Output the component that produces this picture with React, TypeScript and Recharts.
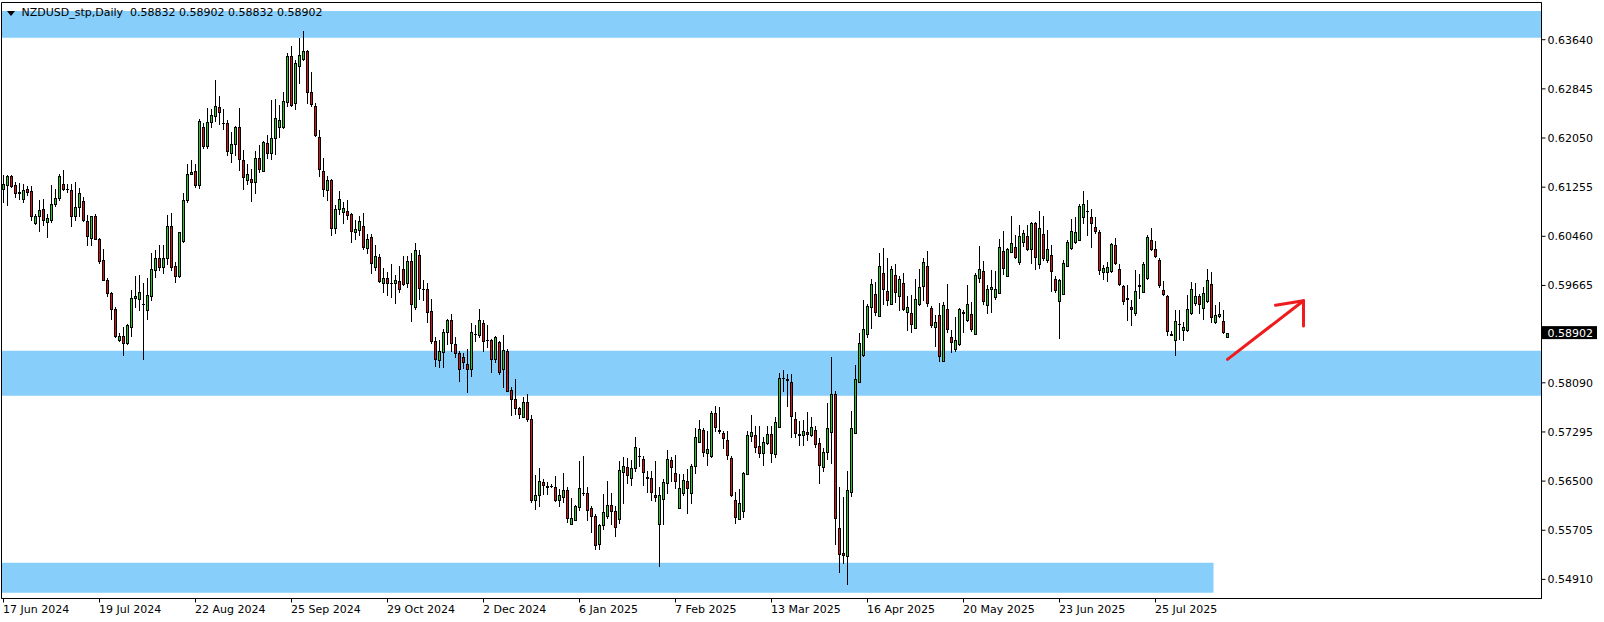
import React from "react";
import { ComposedChart, Bar, XAxis, YAxis, ReferenceArea, ReferenceLine } from "recharts";

const FONT = '"DejaVu Sans", Verdana, sans-serif';
const BULL = "#22cc22";
const BEAR = "#dd1111";
const BAND = "#87cefa";

// NZDUSD daily, one value per candle (17 Jun 2024 onward)
const opens = [
  0.61231, 0.61291, 0.61431, 0.61285, 0.6117, 0.61069, 0.61231, 0.61188, 0.60675, 0.60788,
  0.60907, 0.60691, 0.60729, 0.60977, 0.6108, 0.61302, 0.61225, 0.61215, 0.60788, 0.60934,
  0.61037, 0.60713, 0.60437, 0.60783, 0.60421, 0.6007, 0.59757, 0.59546, 0.59292, 0.58784,
  0.58849, 0.5873, 0.5899, 0.5946, 0.59443, 0.5937, 0.5927, 0.59492, 0.59919, 0.60102,
  0.59962, 0.60113, 0.60632, 0.59973, 0.59816, 0.60383, 0.61042, 0.61474, 0.61513, 0.61297,
  0.62226, 0.61923, 0.62301, 0.62398, 0.62544, 0.623, 0.62285, 0.61815, 0.61961, 0.6222,
  0.61702, 0.61378, 0.61394, 0.61345, 0.61723, 0.61523, 0.61977, 0.61815, 0.62058, 0.6222,
  0.62231, 0.62636, 0.63376, 0.62609, 0.63214, 0.63322, 0.63457, 0.62787, 0.62566, 0.62064,
  0.61523, 0.61216, 0.61367, 0.60595, 0.60897, 0.60854, 0.60865, 0.60816, 0.6053, 0.60557,
  0.60622, 0.60271, 0.60444, 0.59963, 0.6012, 0.59704, 0.59791, 0.59712, 0.59704, 0.59731,
  0.59926, 0.59704, 0.60054, 0.59314, 0.60151, 0.5961, 0.59611, 0.59244, 0.58774, 0.5846,
  0.58584, 0.58909, 0.59098, 0.5872, 0.58579, 0.58514, 0.58395, 0.58309, 0.5888, 0.58865,
  0.59065, 0.5879, 0.58785, 0.58476, 0.58757, 0.58314, 0.58612, 0.57979, 0.57828, 0.57682,
  0.57531, 0.57785, 0.57504, 0.56202, 0.56273, 0.56489, 0.56418, 0.56422, 0.56408, 0.56202,
  0.56235, 0.56359, 0.55813, 0.55878, 0.56089, 0.5631, 0.56305, 0.56062, 0.55938, 0.55479,
  0.55792, 0.55938, 0.56116, 0.56019, 0.55884, 0.56651, 0.56732, 0.56548, 0.5671, 0.5691,
  0.56861, 0.5657, 0.56554, 0.56278, 0.55803, 0.56208, 0.56462, 0.56845, 0.56634, 0.56073,
  0.563, 0.56505, 0.563, 0.56737, 0.57126, 0.57331, 0.56948, 0.5691, 0.57607, 0.57325,
  0.57277, 0.57169, 0.56872, 0.56192, 0.55894, 0.56024, 0.56613, 0.57223, 0.57245, 0.57067,
  0.56948, 0.5711, 0.57261, 0.56937, 0.5738, 0.58172, 0.58147, 0.58104, 0.57504, 0.57261,
  0.57245, 0.57293, 0.57245, 0.57326, 0.57115, 0.56721, 0.56975, 0.57288, 0.57909, 0.55737,
  0.55333, 0.55284, 0.56316, 0.57272, 0.58098, 0.58541, 0.58876, 0.59314, 0.5953, 0.59168,
  0.5987, 0.59568, 0.59368, 0.59838, 0.59492, 0.59708, 0.59233, 0.59222, 0.58979, 0.59362,
  0.59654, 0.59973, 0.59303, 0.58995, 0.59189, 0.58439, 0.59276, 0.58838, 0.58633, 0.5872,
  0.5923, 0.59103, 0.59206, 0.58876, 0.59784, 0.59892, 0.59352, 0.59605, 0.59476, 0.59546,
  0.60216, 0.59816, 0.60205, 0.60292, 0.60043, 0.60367, 0.6047, 0.60254, 0.6067, 0.60011,
  0.60491, 0.60081, 0.60151, 0.59773, 0.59411, 0.5953, 0.59978, 0.6027, 0.60367, 0.60405,
  0.60772, 0.60875, 0.60772, 0.60605, 0.60524, 0.59881, 0.59881, 0.59897, 0.60313, 0.59924,
  0.59649, 0.5946, 0.59314, 0.59216, 0.59668, 0.59562, 0.59784, 0.60394, 0.60259, 0.6007,
  0.59584, 0.59487, 0.58881, 0.58784, 0.5904, 0.58946, 0.58946, 0.59222, 0.59378, 0.59487,
  0.59303, 0.59411, 0.59692, 0.59071, 0.59168, 0.59092, 0.58832,
];

const highs = [
  0.61447, 0.61447, 0.61447, 0.61339, 0.61329, 0.61312, 0.61269, 0.61269, 0.60826, 0.61042,
  0.61069, 0.60826, 0.61285, 0.61231, 0.61474, 0.61528, 0.61312, 0.61312, 0.61339, 0.61248,
  0.61096, 0.608, 0.60794, 0.60815, 0.60437, 0.60254, 0.59784, 0.59557, 0.59314, 0.58903,
  0.5899, 0.59044, 0.59595, 0.59811, 0.59827, 0.59703, 0.5979, 0.60194, 0.60232, 0.60324,
  0.60324, 0.608, 0.60837, 0.60044, 0.60535, 0.61161, 0.61637, 0.61691, 0.61637, 0.62361,
  0.62296, 0.62528, 0.62517, 0.62987, 0.62728, 0.62512, 0.62339, 0.6215, 0.62242, 0.62528,
  0.61853, 0.61637, 0.61556, 0.61837, 0.61934, 0.62004, 0.62096, 0.62663, 0.62674, 0.62582,
  0.62798, 0.63419, 0.63538, 0.63311, 0.63662, 0.63781, 0.63473, 0.63122, 0.62609, 0.62177,
  0.61729, 0.61432, 0.61394, 0.60962, 0.61189, 0.61016, 0.61043, 0.60838, 0.6073, 0.60784,
  0.60838, 0.60503, 0.60503, 0.60314, 0.60168, 0.59953, 0.59882, 0.60006, 0.59828, 0.59974,
  0.60136, 0.60136, 0.60189, 0.60356, 0.60232, 0.59757, 0.59708, 0.59449, 0.58838, 0.58785,
  0.58963, 0.59125, 0.59206, 0.58838, 0.58601, 0.58568, 0.58639, 0.5906, 0.59027, 0.59276,
  0.59109, 0.59027, 0.58801, 0.58855, 0.58774, 0.58865, 0.58639, 0.58017, 0.58152, 0.57704,
  0.57855, 0.57909, 0.57574, 0.56602, 0.5671, 0.56532, 0.56478, 0.56451, 0.56586, 0.5637,
  0.56629, 0.56397, 0.56224, 0.56116, 0.56829, 0.5691, 0.56408, 0.561, 0.55965, 0.55813,
  0.56289, 0.56494, 0.56305, 0.561, 0.56829, 0.56883, 0.56872, 0.5684, 0.57218, 0.57034,
  0.5691, 0.56667, 0.56667, 0.56829, 0.56397, 0.56537, 0.57007, 0.56894, 0.56926, 0.56613,
  0.56613, 0.56694, 0.56775, 0.57358, 0.57493, 0.57353, 0.57304, 0.57639, 0.5772, 0.57693,
  0.57315, 0.57315, 0.5691, 0.56316, 0.5637, 0.5664, 0.57304, 0.57574, 0.57396, 0.57396,
  0.57207, 0.57396, 0.57396, 0.57542, 0.58244, 0.58304, 0.58233, 0.58233, 0.57612, 0.57477,
  0.57488, 0.57612, 0.57531, 0.57391, 0.57196, 0.57034, 0.57763, 0.58514, 0.57963, 0.56408,
  0.56246, 0.56667, 0.57639, 0.58385, 0.58898, 0.59422, 0.59357, 0.59762, 0.59719, 0.60194,
  0.60275, 0.60113, 0.59984, 0.60005, 0.59816, 0.59865, 0.59487, 0.59503, 0.59768, 0.59935,
  0.60102, 0.60216, 0.59325, 0.59195, 0.59389, 0.59405, 0.59681, 0.58946, 0.59162, 0.59303,
  0.5927, 0.59665, 0.59405, 0.59865, 0.60297, 0.60059, 0.59665, 0.59908, 0.59892, 0.60421,
  0.6054, 0.60275, 0.60783, 0.60486, 0.60648, 0.60567, 0.60648, 0.60691, 0.60691, 0.60864,
  0.60783, 0.60556, 0.60313, 0.59811, 0.59773, 0.60081, 0.60405, 0.60734, 0.60772, 0.60988,
  0.61188, 0.61042, 0.60907, 0.60772, 0.60567, 0.59989, 0.60043, 0.60351, 0.60432, 0.60005,
  0.59665, 0.59676, 0.59432, 0.59908, 0.59843, 0.60043, 0.60475, 0.60594, 0.60383, 0.60113,
  0.59735, 0.59503, 0.58935, 0.5927, 0.5927, 0.59071, 0.59503, 0.59719, 0.59708, 0.5953,
  0.59638, 0.59935, 0.59881, 0.59341, 0.59395, 0.5926, 0.58902,
];

const lows = [
  0.61015, 0.60961, 0.61258, 0.61096, 0.61069, 0.61015, 0.61123, 0.60718, 0.60653, 0.60545,
  0.60637, 0.60448, 0.60691, 0.60945, 0.61042, 0.61204, 0.61177, 0.60627, 0.60718, 0.60788,
  0.60702, 0.60324, 0.60324, 0.60421, 0.60032, 0.59747, 0.59492, 0.59125, 0.58828, 0.58763,
  0.58547, 0.5872, 0.58844, 0.59314, 0.5926, 0.58477, 0.59125, 0.59422, 0.598, 0.59919,
  0.59865, 0.60016, 0.59919, 0.59719, 0.598, 0.60367, 0.61015, 0.61464, 0.61258, 0.61243,
  0.61896, 0.61896, 0.6222, 0.62328, 0.62274, 0.62188, 0.61772, 0.61664, 0.61772, 0.61529,
  0.61232, 0.61302, 0.61032, 0.61162, 0.61502, 0.61513, 0.61734, 0.61718, 0.61799, 0.62069,
  0.62215, 0.62571, 0.62566, 0.62512, 0.62933, 0.63311, 0.6262, 0.62566, 0.6208, 0.61437,
  0.61108, 0.61053, 0.60487, 0.60514, 0.60816, 0.60681, 0.60746, 0.60368, 0.60422, 0.60476,
  0.6026, 0.6019, 0.59866, 0.59909, 0.5972, 0.59558, 0.59504, 0.59477, 0.5938, 0.59558,
  0.59666, 0.59639, 0.59087, 0.59287, 0.59449, 0.59422, 0.59071, 0.5873, 0.58368, 0.58352,
  0.58341, 0.5872, 0.58612, 0.58503, 0.58125, 0.58325, 0.57936, 0.58206, 0.58763, 0.58828,
  0.58612, 0.58666, 0.5826, 0.58433, 0.58233, 0.58017, 0.57963, 0.57574, 0.57585, 0.57515,
  0.57531, 0.57477, 0.5617, 0.56056, 0.561, 0.56289, 0.56289, 0.56408, 0.56181, 0.561,
  0.5617, 0.5584, 0.55803, 0.55867, 0.5603, 0.56278, 0.55867, 0.55684, 0.55398, 0.55398,
  0.55722, 0.55911, 0.55803, 0.55614, 0.5583, 0.56138, 0.56467, 0.5644, 0.56667, 0.56748,
  0.5644, 0.56316, 0.56192, 0.56181, 0.55127, 0.55803, 0.563, 0.56494, 0.56386, 0.56057,
  0.56278, 0.55976, 0.56138, 0.56624, 0.57126, 0.5691, 0.56753, 0.56894, 0.57315, 0.57272,
  0.57034, 0.56851, 0.56262, 0.5583, 0.55883, 0.55927, 0.56613, 0.57153, 0.56964, 0.56894,
  0.56759, 0.57099, 0.56802, 0.56883, 0.57369, 0.57952, 0.5772, 0.57207, 0.57218, 0.57083,
  0.57083, 0.57169, 0.57229, 0.57056, 0.56462, 0.56667, 0.56856, 0.56786, 0.55489, 0.55035,
  0.55181, 0.5483, 0.56251, 0.57272, 0.58098, 0.5853, 0.58828, 0.58973, 0.59179, 0.59168,
  0.59368, 0.59346, 0.59362, 0.59405, 0.5926, 0.5927, 0.58952, 0.58909, 0.58979, 0.59352,
  0.59422, 0.59325, 0.5899, 0.58682, 0.58439, 0.58439, 0.58909, 0.58584, 0.58601, 0.58698,
  0.58909, 0.59097, 0.58925, 0.58876, 0.59714, 0.59368, 0.59216, 0.59233, 0.59449, 0.59541,
  0.59843, 0.59816, 0.60205, 0.60113, 0.60016, 0.60297, 0.60232, 0.60027, 0.59924, 0.59946,
  0.6007, 0.60043, 0.59573, 0.59557, 0.58811, 0.59519, 0.59973, 0.60248, 0.60351, 0.60394,
  0.60675, 0.60475, 0.60286, 0.60513, 0.59843, 0.59773, 0.59735, 0.59881, 0.60016, 0.59665,
  0.59357, 0.59098, 0.59027, 0.59195, 0.59465, 0.59557, 0.59773, 0.60243, 0.60124, 0.59638,
  0.59514, 0.58865, 0.58865, 0.58541, 0.58801, 0.58784, 0.58935, 0.59206, 0.59351, 0.59222,
  0.59125, 0.59395, 0.59071, 0.59054, 0.59152, 0.58898, 0.58832,
];

const closes = [
  0.61312, 0.61431, 0.61275, 0.61167, 0.61165, 0.61215, 0.61177, 0.60788, 0.60794, 0.60891,
  0.60729, 0.60761, 0.60988, 0.61085, 0.61431, 0.61231, 0.6122, 0.60788, 0.60934, 0.61161,
  0.60718, 0.60464, 0.60794, 0.60421, 0.60059, 0.59757, 0.59546, 0.59281, 0.58844, 0.58849,
  0.5873, 0.59022, 0.5947, 0.59492, 0.59563, 0.59366, 0.59503, 0.59924, 0.60102, 0.59962,
  0.60113, 0.60632, 0.59962, 0.59816, 0.60524, 0.61053, 0.61474, 0.61507, 0.61291, 0.62323,
  0.61923, 0.62301, 0.6242, 0.6256, 0.62474, 0.62292, 0.61842, 0.61961, 0.6222, 0.61718,
  0.61426, 0.61475, 0.6134, 0.61723, 0.61551, 0.61993, 0.61815, 0.62058, 0.62366, 0.62339,
  0.62647, 0.63376, 0.62582, 0.63257, 0.63392, 0.63451, 0.62787, 0.62593, 0.62096, 0.61551,
  0.61232, 0.61367, 0.60595, 0.60908, 0.61069, 0.60924, 0.608, 0.60546, 0.60584, 0.60703,
  0.60287, 0.60411, 0.60028, 0.60136, 0.59737, 0.59791, 0.59704, 0.59708, 0.59748, 0.59607,
  0.59693, 0.60055, 0.59368, 0.60232, 0.59627, 0.596, 0.59233, 0.58763, 0.58476, 0.58612,
  0.58919, 0.59098, 0.5873, 0.58568, 0.58309, 0.58422, 0.58309, 0.58919, 0.58872, 0.59114,
  0.58763, 0.5878, 0.58476, 0.58838, 0.5826, 0.58628, 0.57963, 0.57828, 0.57682, 0.57585,
  0.5778, 0.57499, 0.56202, 0.56273, 0.56499, 0.5644, 0.5641, 0.56418, 0.56202, 0.56273,
  0.56359, 0.55911, 0.559, 0.56094, 0.56386, 0.563, 0.5604, 0.55938, 0.55462, 0.55792,
  0.56003, 0.56116, 0.56019, 0.55765, 0.56683, 0.56742, 0.56597, 0.5671, 0.57056, 0.569,
  0.5664, 0.56548, 0.56316, 0.56235, 0.56273, 0.56483, 0.56856, 0.56721, 0.56494, 0.56391,
  0.56521, 0.56381, 0.56748, 0.57212, 0.57342, 0.56964, 0.57018, 0.57607, 0.5738, 0.57315,
  0.57191, 0.56916, 0.56278, 0.55927, 0.56143, 0.56629, 0.57245, 0.57299, 0.57045, 0.56948,
  0.57137, 0.57261, 0.56948, 0.57461, 0.58169, 0.58165, 0.58131, 0.57547, 0.57272, 0.57239,
  0.57315, 0.57261, 0.57369, 0.57099, 0.56759, 0.56975, 0.57358, 0.57909, 0.5591, 0.55316,
  0.553, 0.56353, 0.57358, 0.58152, 0.58736, 0.58963, 0.59325, 0.59692, 0.59233, 0.59984,
  0.59605, 0.59432, 0.59935, 0.59557, 0.59773, 0.59281, 0.59319, 0.59044, 0.59438, 0.59643,
  0.60048, 0.59378, 0.59022, 0.59076, 0.5852, 0.59352, 0.58957, 0.58747, 0.58784, 0.59292,
  0.59225, 0.59368, 0.58957, 0.59827, 0.59935, 0.59411, 0.59611, 0.59643, 0.59611, 0.60281,
  0.59946, 0.60248, 0.60346, 0.60124, 0.60459, 0.60513, 0.60254, 0.6067, 0.60124, 0.60589,
  0.60108, 0.60259, 0.59897, 0.59584, 0.59746, 0.60032, 0.60367, 0.60551, 0.60524, 0.60945,
  0.60978, 0.60865, 0.6068, 0.60545, 0.59913, 0.59951, 0.59967, 0.60329, 0.60027, 0.59681,
  0.59411, 0.5945, 0.59287, 0.59578, 0.59662, 0.60005, 0.60448, 0.60248, 0.6014, 0.59665,
  0.5953, 0.58925, 0.58865, 0.59092, 0.59036, 0.58995, 0.59276, 0.596, 0.59497, 0.59368,
  0.59535, 0.59746, 0.59152, 0.59189, 0.59206, 0.58908, 0.58902,
];

// x-axis labels, one every 24 bars
const dateLabels = [
  "17 Jun 2024", "19 Jul 2024", "22 Aug 2024", "25 Sep 2024", "29 Oct 2024", "2 Dec 2024",
  "6 Jan 2025", "7 Feb 2025", "13 Mar 2025", "16 Apr 2025", "20 May 2025", "23 Jun 2025",
  "25 Jul 2025",
];
const LABEL_STEP = 24;

const priceTicks = [0.5491, 0.55705, 0.565, 0.57295, 0.5809, 0.59665, 0.6046, 0.61255, 0.6205, 0.62845, 0.6364];
const Y_MIN = 0.54601;
const Y_MAX = 0.64242;

// support / resistance zones [from, to]
const topZone = [0.63672, 0.64104];
const midZone = [0.57881, 0.58609];
const lowZone = [0.54695, 0.5518];
const lowZoneEnd = 302;

// hand-drawn arrow: [bar, price] points
const arrowFrom = [306, 0.5847];
const arrowTip = [325, 0.59418];
const arrowWingL = [318, 0.59344];
const arrowWingR = [325, 0.59009];

const SLOTS = 385; // includes empty space right of the last bar
const last = opens.length - 1;

const rows = Array.from({ length: SLOTS }, (_, i) =>
  i <= last
    ? { i, range: [lows[i], highs[i]], o: opens[i], h: highs[i], l: lows[i], c: closes[i] }
    : { i }
);

const header = `NZDUSD_stp,Daily  ${opens[last].toFixed(5)} ${highs[last].toFixed(5)} ${lows[last].toFixed(5)} ${closes[last].toFixed(5)}`;

function Candle(props: any) {
  const { x, y, width, height, payload } = props;
  if (!payload || payload.o == null || !isFinite(y) || !isFinite(height)) return null;
  const { o, h, l, c } = payload;
  const top = Math.min(y, y + height);
  const span = Math.abs(height);
  const k = span / (h - l);
  const py = (v: number) => Math.round(top + (h - v) * k);
  const cx = Math.floor(x + width / 2);
  const hi = py(h);
  const lo = py(l);
  const bTop = py(Math.max(o, c));
  const bBot = py(Math.min(o, c));
  return (
    <g>
      <rect x={cx} y={hi} width={1} height={Math.max(1, lo - hi + 1)} fill="#000" />
      <rect x={cx - 1} y={bTop} width={3} height={Math.max(1, bBot - bTop + 1)} fill="#000" />
      {bBot - bTop >= 2 && (
        <rect x={cx} y={bTop + 1} width={1} height={bBot - bTop - 1} fill={c >= o ? BULL : BEAR} />
      )}
    </g>
  );
}

function DateTick(props: any) {
  const { x, y, payload } = props;
  const label = dateLabels[payload.value / LABEL_STEP];
  return (
    <text x={x - 0.5} y={y} dy={8.5} textAnchor="start" fontSize={11} fontFamily={FONT} fill="#000">
      {label}
    </text>
  );
}

function PriceTag(props: any) {
  const vb = props.viewBox || {};
  const x = vb.x + vb.width;
  const y = vb.y;
  return (
    <g>
      <rect x={x + 0.5} y={y - 6.5} width={55} height={13} fill="#000" />
      <text x={x + 6} y={y} dy="0.36em" fontSize={11} fontFamily={FONT} fill="#fff">
        {closes[last].toFixed(5)}
      </text>
    </g>
  );
}

const arrowSegs = [
  [arrowFrom, arrowTip],
  [arrowWingL, arrowTip],
  [arrowWingR, arrowTip],
];

export default function App() {
  const xTicks = dateLabels.map((_, k) => k * LABEL_STEP);
  return (
    <div style={{ position: "relative", width: 1604, height: 622, background: "#fff", fontFamily: FONT }}>
      <style>{`body{margin:0}`}</style>
      <ComposedChart
        width={1604}
        height={622}
        data={rows}
        margin={{ top: 2.5, right: 0, bottom: 0, left: 1.5 }}
        barCategoryGap={0}
        barGap={0}
      >
        <XAxis
          dataKey="i"
          type="category"
          ticks={xTicks}
          interval={0}
          height={23.5}
          tickSize={4}
          tickMargin={2}
          axisLine={{ stroke: "#000" }}
          tickLine={{ stroke: "#000" }}
          tick={<DateTick />}
        />
        <YAxis
          orientation="right"
          type="number"
          domain={[Y_MIN, Y_MAX]}
          allowDataOverflow
          ticks={priceTicks}
          interval={0}
          width={62.5}
          tickSize={4}
          tickMargin={2}
          axisLine={{ stroke: "#000" }}
          tickLine={{ stroke: "#000" }}
          tick={{ fontSize: 11, fill: "#000", fontFamily: FONT }}
          tickFormatter={(v: number) => v.toFixed(5)}
        />
        <ReferenceArea y1={topZone[0]} y2={topZone[1]} fill={BAND} fillOpacity={1} stroke="none" />
        <ReferenceArea y1={midZone[0]} y2={midZone[1]} fill={BAND} fillOpacity={1} stroke="none" />
        <ReferenceArea x1={0} x2={lowZoneEnd} y1={lowZone[0]} y2={lowZone[1]} fill={BAND} fillOpacity={1} stroke="none" />
        <Bar dataKey="range" shape={<Candle />} isAnimationActive={false} />
        <ReferenceArea y1={Y_MIN} y2={Y_MAX} fill="none" stroke="#000" strokeWidth={1} />
        {arrowSegs.map((s, k) => (
          <ReferenceLine
            key={k}
            segment={[{ x: s[0][0], y: s[0][1] }, { x: s[1][0], y: s[1][1] }]}
            stroke="#ee1c1c"
            strokeWidth={3}
            strokeLinecap="round"
          />
        ))}
        <ReferenceLine y={closes[last]} stroke="none" label={<PriceTag />} />
      </ComposedChart>
      <div
        style={{
          position: "absolute",
          left: 7,
          top: 11,
          width: 0,
          height: 0,
          borderLeft: "4px solid transparent",
          borderRight: "4px solid transparent",
          borderTop: "5px solid #000",
        }}
      />
      <div
        style={{
          position: "absolute",
          left: 21.5,
          top: 6,
          fontSize: 11,
          lineHeight: "14px",
          color: "#000",
          whiteSpace: "pre",
        }}
      >
        {header}
      </div>
    </div>
  );
}
